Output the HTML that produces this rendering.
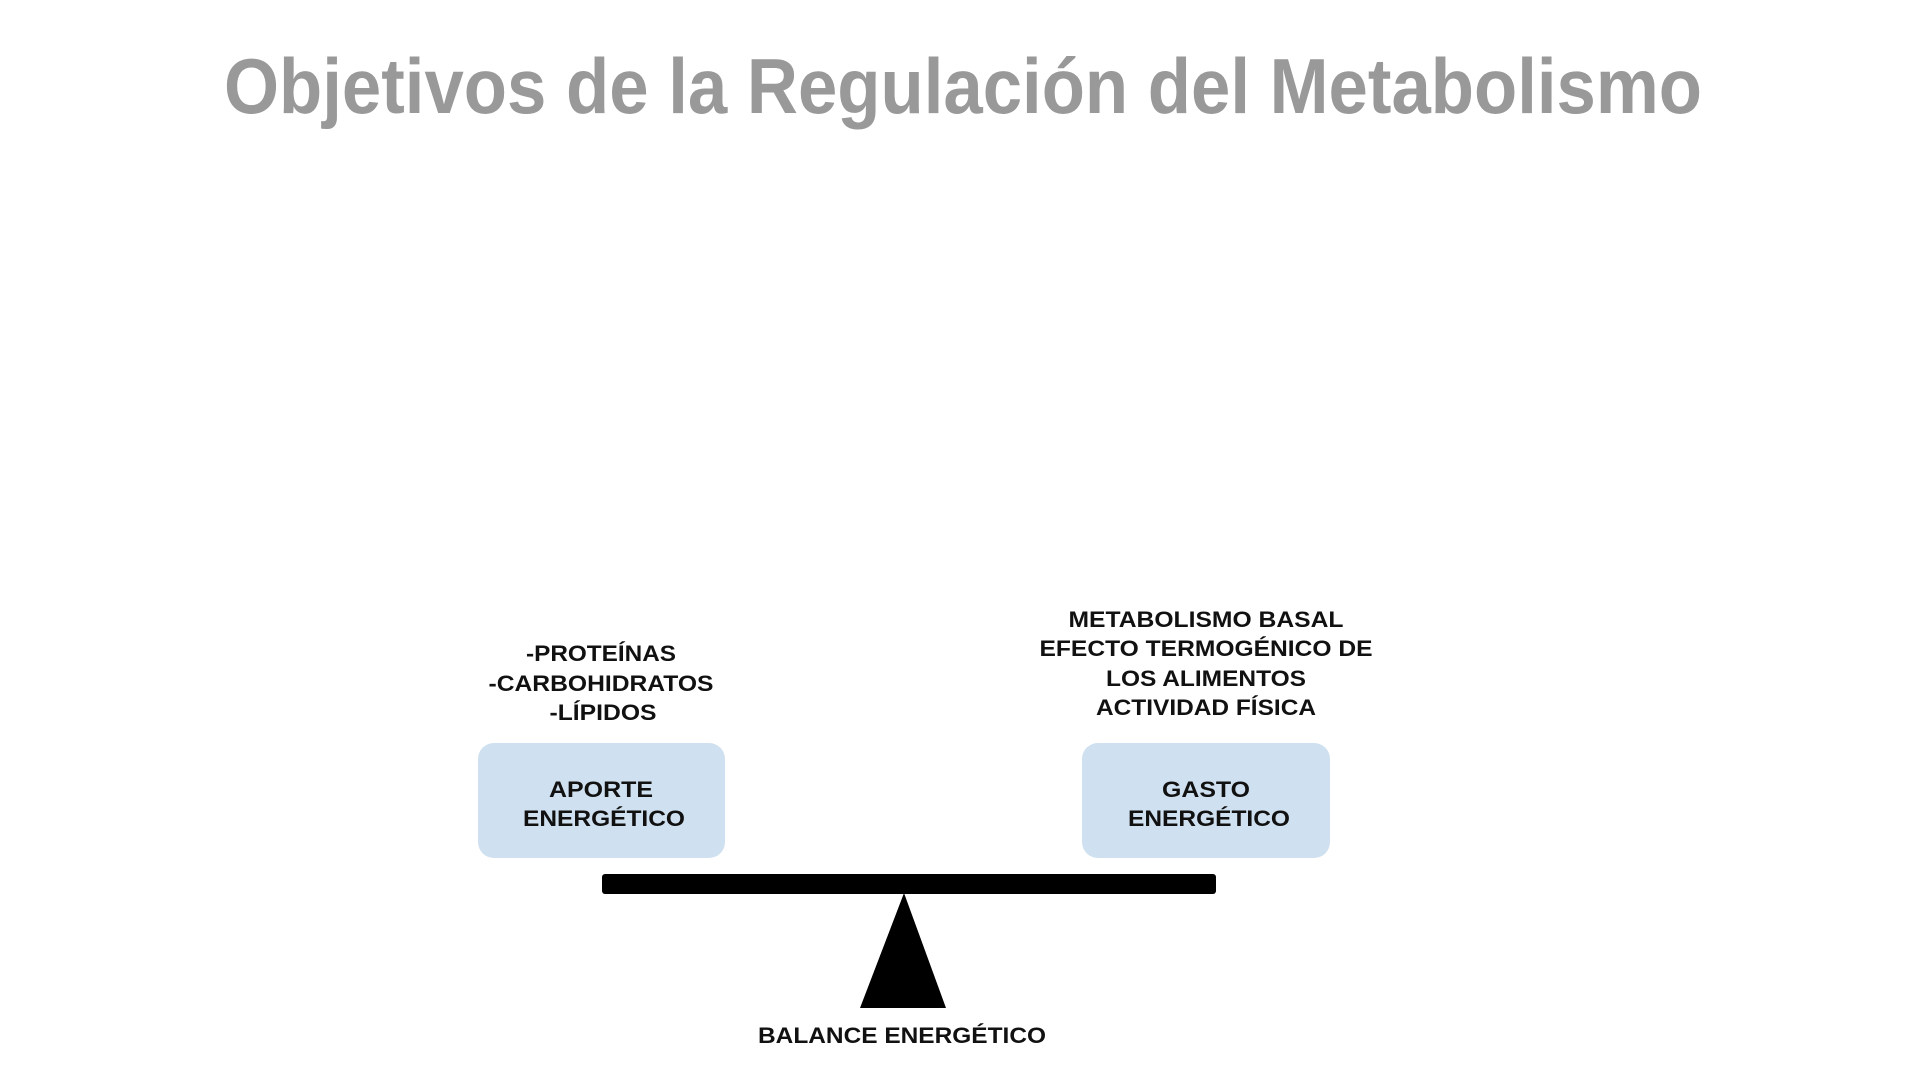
<!DOCTYPE html>
<html><head><meta charset="utf-8"><style>
html,body{margin:0;padding:0;background:#fff;width:1920px;height:1080px;overflow:hidden}
svg{display:block}
text{font-family:"Liberation Sans",sans-serif;font-weight:bold}
</style></head><body>
<svg width="1920" height="1080" viewBox="0 0 1920 1080">
<text x="963" y="113" text-anchor="middle" font-size="78" fill="#999" textLength="1478" lengthAdjust="spacingAndGlyphs">Objetivos de la Regulación del Metabolismo</text>
<rect x="478" y="743" width="247" height="115" rx="16" fill="#cfe0f0"/>
<rect x="1082" y="743" width="248" height="115" rx="16" fill="#cfe0f0"/>
<g font-size="22" fill="#111" text-anchor="middle">
<text x="601" y="797" textLength="104" lengthAdjust="spacingAndGlyphs">APORTE</text>
<text x="604" y="826" textLength="162" lengthAdjust="spacingAndGlyphs">ENERGÉTICO</text>
<text x="1206" y="797" textLength="88" lengthAdjust="spacingAndGlyphs">GASTO</text>
<text x="1209" y="826" textLength="162" lengthAdjust="spacingAndGlyphs">ENERGÉTICO</text>
<text x="601" y="661" textLength="150" lengthAdjust="spacingAndGlyphs">-PROTEÍNAS</text>
<text x="601" y="691" textLength="225" lengthAdjust="spacingAndGlyphs">-CARBOHIDRATOS</text>
<text x="603" y="720" textLength="107" lengthAdjust="spacingAndGlyphs">-LÍPIDOS</text>
<text x="1206" y="627" textLength="275" lengthAdjust="spacingAndGlyphs">METABOLISMO BASAL</text>
<text x="1206" y="656" textLength="333" lengthAdjust="spacingAndGlyphs">EFECTO TERMOGÉNICO DE</text>
<text x="1206" y="686" textLength="200" lengthAdjust="spacingAndGlyphs">LOS ALIMENTOS</text>
<text x="1206" y="715" textLength="220" lengthAdjust="spacingAndGlyphs">ACTIVIDAD FÍSICA</text>
<text x="902" y="1043" textLength="288" lengthAdjust="spacingAndGlyphs">BALANCE ENERGÉTICO</text>
</g>
<rect x="602" y="874" width="614" height="20" rx="3" fill="#000"/>
<polygon points="904,893 860,1008 946,1008" fill="#000"/>
</svg>
</body></html>
